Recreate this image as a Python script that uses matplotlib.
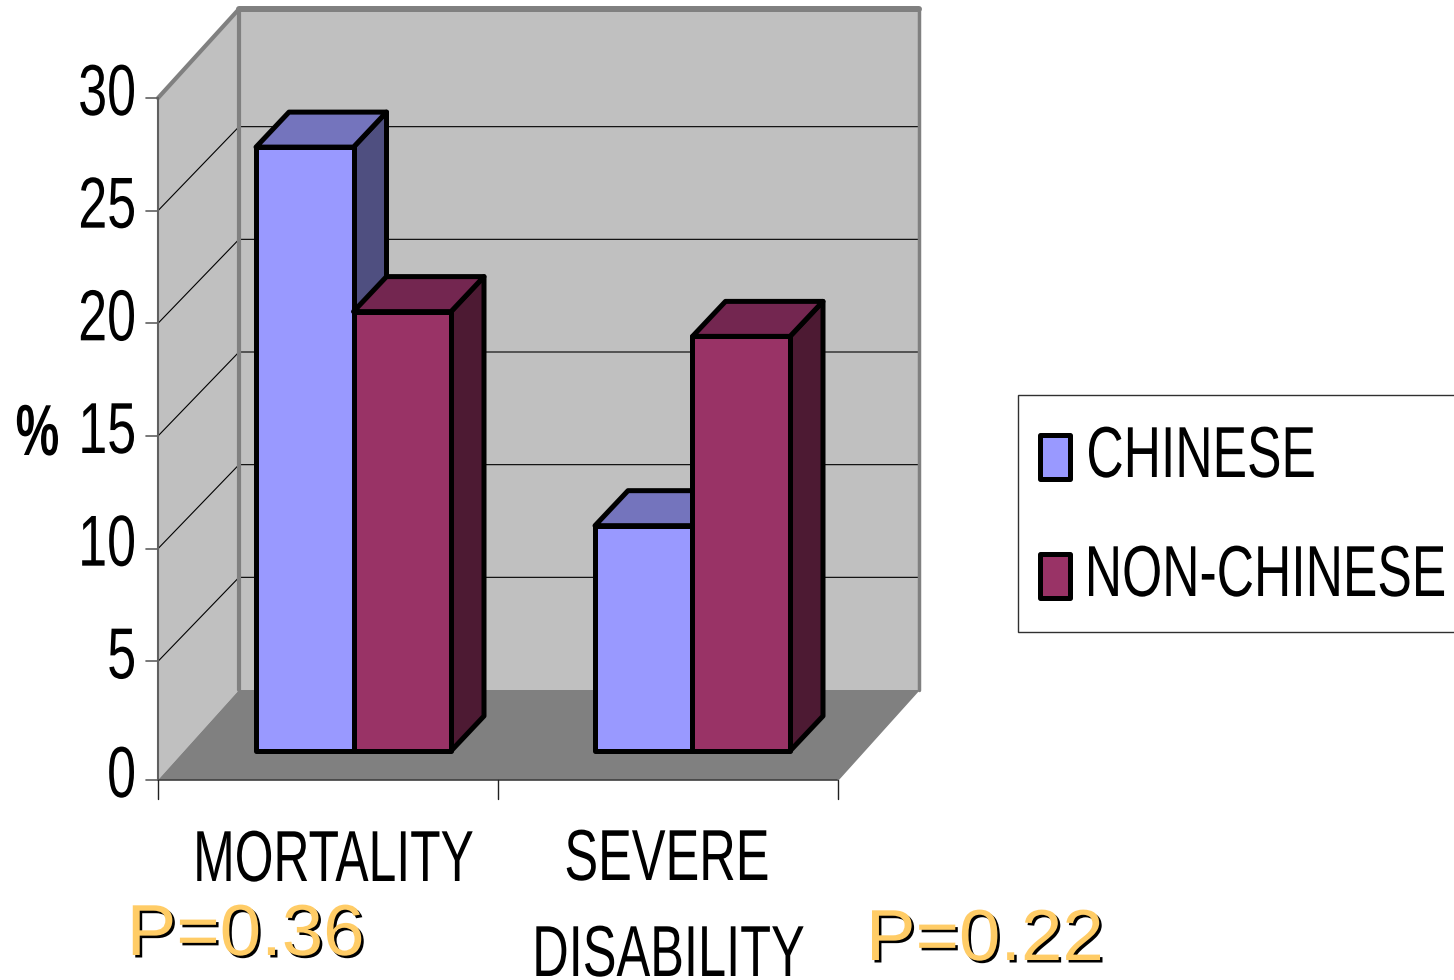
import matplotlib
matplotlib.use("Agg")
import matplotlib.pyplot as plt
from matplotlib.patches import Polygon, Rectangle
from matplotlib.text import Text
from matplotlib.textpath import TextPath
from matplotlib.transforms import Affine2D, Bbox
from matplotlib.colors import to_rgb

categories = ['MORTALITY', 'SEVERE\nDISABILITY']
series_names = ['CHINESE', 'NON-CHINESE']
chinese = [26.8, 10.0]
non_chinese = [19.5, 18.4]
y_ticks = [0, 5, 10, 15, 20, 25, 30]
p_values = ['P=0.36', 'P=0.22']

plt.rcParams['font.family'] = ['Liberation Sans']

W, H = 1454, 980


class NarrowText(Text):
    # no condensed face is installed, so the glyphs get squeezed when drawn
    def __init__(self, x, y, s, squeeze=0.7, **kw):
        super().__init__(x, y, s, **kw)
        self.squeeze = squeeze

    def _layout_path(self):
        px = self.get_fontsize() * self.get_figure().dpi / 72
        tp = TextPath((0, 0), self.get_text(), size=px, prop=self.get_fontproperties())
        ext = tp.get_extents()
        ax_, ay_ = self.get_transform().transform(self.get_unitless_position())
        ha = self.get_ha()
        if ha == 'left':
            left = ax_ - ext.x0 * self.squeeze
        elif ha == 'right':
            left = ax_ - ext.x1 * self.squeeze
        else:
            left = ax_ - (ext.x0 + ext.x1) / 2 * self.squeeze
        return tp, ext, left, ay_

    def get_window_extent(self, renderer=None, dpi=None):
        tp, ext, left, base = self._layout_path()
        return Bbox.from_extents(left + ext.x0 * self.squeeze, base + ext.y0,
                                 left + ext.x1 * self.squeeze, base + ext.y1)

    def draw(self, renderer):
        if not self.get_visible():
            return
        tp, ext, left, base = self._layout_path()
        gc = renderer.new_gc()
        gc.set_linewidth(0)
        gc.set_antialiased(True)
        tr = Affine2D().scale(self.squeeze, 1).translate(left, base)
        renderer.draw_path(gc, tp, tr, to_rgb(self.get_color()))
        gc.restore()
        self.stale = False


fig = plt.figure(figsize=(W / 100, H / 100), dpi=100)
# front plane of the box: x 0..2 groups, y 0..30 percent
ax = fig.add_axes([158 / W, (H - 774) / H, 680 / W, 676 / H])
ax.set_xlim(0, 2)
ax.set_ylim(0, 30)
ax.axis('off')

ux = 680 / 2.0    # px per group
uy = 676 / 30.0   # px per percent
depth_x = 81 / ux
back_lift = 84 / uy      # gridlines, back wall against front ticks
floor_v = -6 / uy        # front edge of the floor sits a little under tick 0
top_v = 30 + 89 / uy     # top edge of the back wall


def poly(pts, fc, ec='none', lw=0, z=1):
    ax.add_patch(Polygon(pts, closed=True, facecolor=fc, edgecolor=ec, linewidth=lw,
                         joinstyle='round', clip_on=False, zorder=z))


def line(xs, ys, c='black', lw=1, z=2):
    ax.plot(xs, ys, color=c, lw=lw, clip_on=False, zorder=z, solid_capstyle='round')


def label_px(s, px, py, ha='center', squeeze=0.7, size=52, color='black', **kw):
    fig.add_artist(NarrowText(px / W, 1 - py / H, s, squeeze=squeeze, ha=ha, va='baseline',
                              fontsize=size, color=color, **kw))


# walls and floor
floor_back = back_lift
poly([(0, floor_v), (depth_x, floor_back), (depth_x, top_v), (0, 30)], '#c0c0c0')
poly([(depth_x, floor_back), (2 + depth_x, floor_back), (2 + depth_x, top_v), (depth_x, top_v)], '#c0c0c0')
poly([(0, floor_v), (2, floor_v), (2 + depth_x, floor_back), (depth_x, floor_back)], '#808080')

# gridlines on the walls
for t in y_ticks[1:-1]:
    line([0, depth_x, 2 + depth_x], [t, t + back_lift, t + back_lift], lw=0.8, z=1.5)

# grey frame of the box
frame = '#808080'
line([0, depth_x], [30, top_v], frame, 3, 1.6)
line([depth_x, 2 + depth_x], [top_v, top_v], frame, 4.3, 1.6)
line([2 + depth_x, 2 + depth_x], [top_v, floor_back], frame, 2.5, 1.6)
line([depth_x, depth_x], [floor_back, top_v], frame, 3, 1.6)

# axis lines and ticks
line([0, 0], [floor_v, 30], '#606060', 1.5, 1.7)
line([0, 2], [floor_v, floor_v], '#404040', 1.2, 1.7)
line([2, 2 + depth_x], [floor_v, floor_back], '#808080', 1, 1.7)
for t in y_ticks:
    y = t if t else floor_v
    line([-12 / ux, 0], [y, y], '#606060', 1.2, 1.7)
    fig.add_artist(NarrowText(-24 / ux, y - 17 / uy, str(t), squeeze=0.72, ha='right', va='baseline',
                              fontsize=52, color='black', transform=ax.transData))
for i in range(3):
    line([i, i], [floor_v, floor_v - 19 / uy], '#202020', 1, 1.7)

label_px('%', 58, 455, ha='right', squeeze=0.68, fontweight='bold')

# bars, drawn from the raised base in the box
bar_start = 98 / ux
bar_w = 97.5 / ux
lift = 23 / uy
bdx = 33 / ux
bdy = 35 / uy
group_gap = 339 / ux
colors = [('#9999ff', '#7474bd', '#4f4f80'), ('#993366', '#732650', '#4d1a33')]


def bar(x0, v, cols, z):
    front, top, side = cols
    x1 = x0 + bar_w
    y0 = lift
    y1 = lift + v
    poly([(x1, y0), (x1 + bdx, y0 + bdy), (x1 + bdx, y1 + bdy), (x1, y1)], side, 'black', 3.6, z)
    poly([(x0, y1), (x1, y1), (x1 + bdx, y1 + bdy), (x0 + bdx, y1 + bdy)], top, 'black', 3.6, z)
    poly([(x0, y0), (x1, y0), (x1, y1), (x0, y1)], front, 'black', 3.6, z + 0.1)


for i in range(2):
    x0 = bar_start + i * group_gap
    bar(x0, chinese[i], colors[0], 3 + i)
    bar(x0 + bar_w, non_chinese[i], colors[1], 3.5 + i)

# category labels
label_px(categories[0], 335, 881, squeeze=0.69)
sev, dis = categories[1].split('\n')
label_px(sev, 667, 880, squeeze=0.7)
label_px(dis, 670, 976, squeeze=0.7)

# p values, yellow over a dark shadow
for s, px, py in [(p_values[0], 247, 955), (p_values[1], 986, 960)]:
    label_px(s, px + 2.5, py + 2.5, squeeze=1.03, color='black')
    label_px(s, px, py, squeeze=1.03, color='#ffcc66')

# legend box, runs off the right edge like the original
fig.add_artist(Rectangle((1018 / W, 1 - 632 / H), 440 / W, 237 / H, transform=fig.transFigure,
                         facecolor='white', edgecolor='#303030', linewidth=1))
for i, name in enumerate(series_names):
    yc = 457 + i * 119
    r = Rectangle((1040 / W, 1 - (yc + 22) / H), 30 / W, 44 / H, transform=fig.transFigure,
                  facecolor=colors[i][0], edgecolor='black', linewidth=3.6, joinstyle='round')
    fig.add_artist(r)
    label_px(name, 1089, 477 + i * 119, ha='left', squeeze=0.715)

fig.savefig('out.png', dpi=100)
